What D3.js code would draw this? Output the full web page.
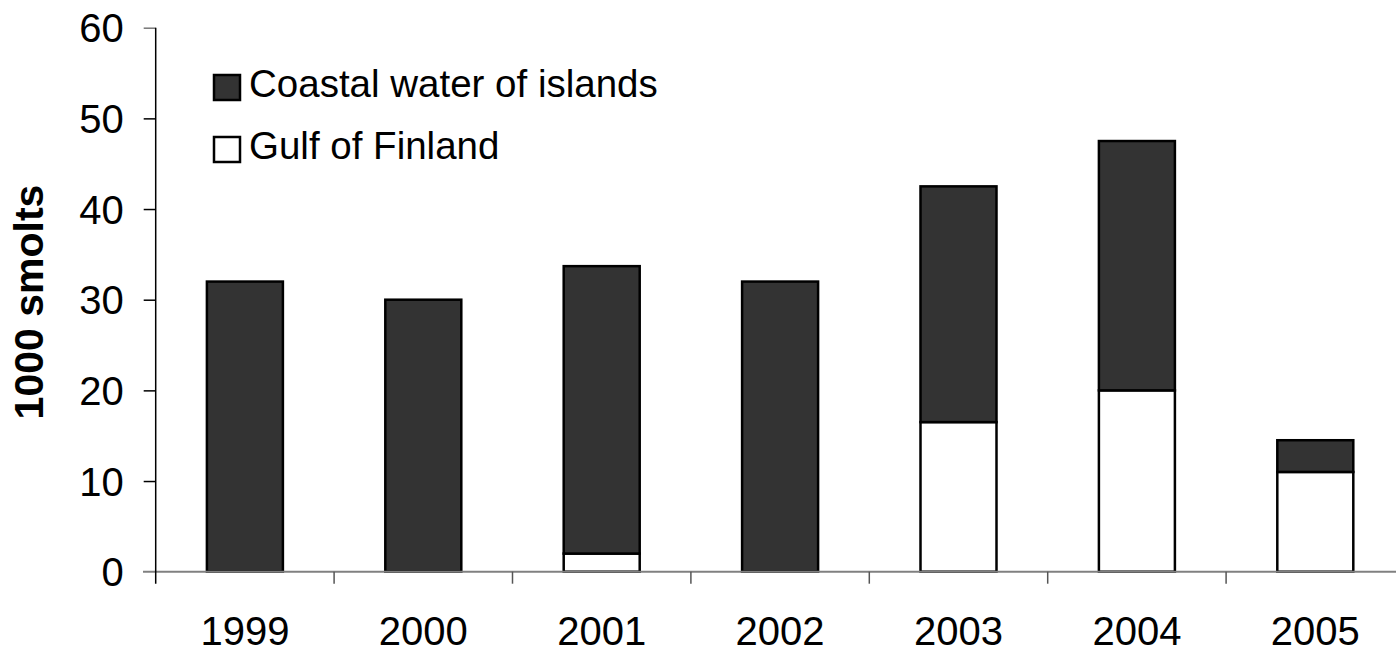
<!DOCTYPE html>
<html>
<head>
<meta charset="utf-8">
<script src="https://cdn.jsdelivr.net/npm/d3@7"></script>
<style>
html,body{margin:0;padding:0;background:#fff;}
svg{display:block;font-family:"Liberation Sans",Arial,sans-serif;}
</style>
</head>
<body>
<svg id="chart" width="1396" height="653"></svg>
<script>
const years = ["1999","2000","2001","2002","2003","2004","2005"];
const gulfOfFinland = [0, 0, 2, 0, 16.5, 20, 11];
const coastalWater = [32, 30, 31.7, 32, 26, 27.5, 3.5];
const yTicks = [0, 10, 20, 30, 40, 50, 60];
const seriesNames = ["Coastal water of islands", "Gulf of Finland"];

const svg = d3.select("#chart");
const x0 = 155.7, step = 178.4;
const x = d3.scaleBand().domain(years).range([x0, x0 + step * years.length])
  .paddingInner(0.574).paddingOuter(0.287);
const y = d3.scaleLinear().domain([0, 60]).range([571.7, 27.7]);

const rows = years.map((yr, i) => ({year: yr, gulf: gulfOfFinland[i], coastal: coastalWater[i]}));
const stack = d3.stack().keys(["gulf", "coastal"])(rows);
const fills = {gulf: "#ffffff", coastal: "#333333"};

// bars
stack.forEach(layer => {
  svg.append("g").selectAll("rect")
    .data(layer.filter(d => d[1] - d[0] > 0))
    .join("rect")
    .attr("x", d => x(d.data.year))
    .attr("width", x.bandwidth())
    .attr("y", d => y(d[1]))
    .attr("height", d => y(d[0]) - y(d[1]))
    .attr("fill", fills[layer.key])
    .attr("stroke", "#000")
    .attr("stroke-width", 2.5);
});

// x axis line
svg.append("line").attr("x1", 143).attr("x2", 1396)
  .attr("y1", y(0)).attr("y2", y(0))
  .attr("stroke", "#808080").attr("stroke-width", 2);
// x category ticks
const bounds = d3.range(1, years.length).map(i => x0 + i * step);
svg.append("g").selectAll("line").data(bounds).join("line")
  .attr("x1", d => d).attr("x2", d => d)
  .attr("y1", y(0)).attr("y2", y(0) + 12)
  .attr("stroke", "#555").attr("stroke-width", 1.5);

// y axis
const yAxis = d3.axisLeft(y).tickValues(yTicks).tickSize(12).tickPadding(20);
const gy = svg.append("g").attr("transform", `translate(${x0},0)`).call(yAxis);
gy.select(".domain").remove();
gy.selectAll(".tick line").attr("stroke", (d) => d === 0 ? "none" : (d === 60 ? "#777" : "#000")).attr("stroke-width", 1.5);
gy.selectAll(".tick text").attr("font-size", 40).attr("fill", "#000")
  .attr("font-family", "Liberation Sans, Arial, sans-serif").attr("dy", "0.35em");
svg.append("line").attr("x1", x0).attr("x2", x0)
  .attr("y1", y(60)).attr("y2", y(0) + 12)
  .attr("stroke", "#000").attr("stroke-width", 1.5);

// x labels
svg.append("g").selectAll("text").data(years).join("text")
  .attr("x", d => x(d) + x.bandwidth() / 2)
  .attr("y", 645)
  .attr("text-anchor", "middle")
  .attr("font-size", 40)
  .text(d => d);

// y title
svg.append("text")
  .attr("transform", "translate(43,302) rotate(-90)")
  .attr("text-anchor", "middle")
  .attr("font-size", 41)
  .attr("font-weight", "bold")
  .text("1000 smolts");

// legend
const legendFills = ["#333333", "#ffffff"];
const legendY = [75, 137];
const lg = svg.append("g");
seriesNames.forEach((name, i) => {
  lg.append("rect").attr("x", 214).attr("y", legendY[i]).attr("width", 26).attr("height", 25)
    .attr("fill", legendFills[i]).attr("stroke", "#000").attr("stroke-width", 2.5);
  lg.append("text").attr("x", 249).attr("y", legendY[i] + 21.5)
    .attr("font-size", 38.5).text(name);
});
</script>
</body>
</html>
